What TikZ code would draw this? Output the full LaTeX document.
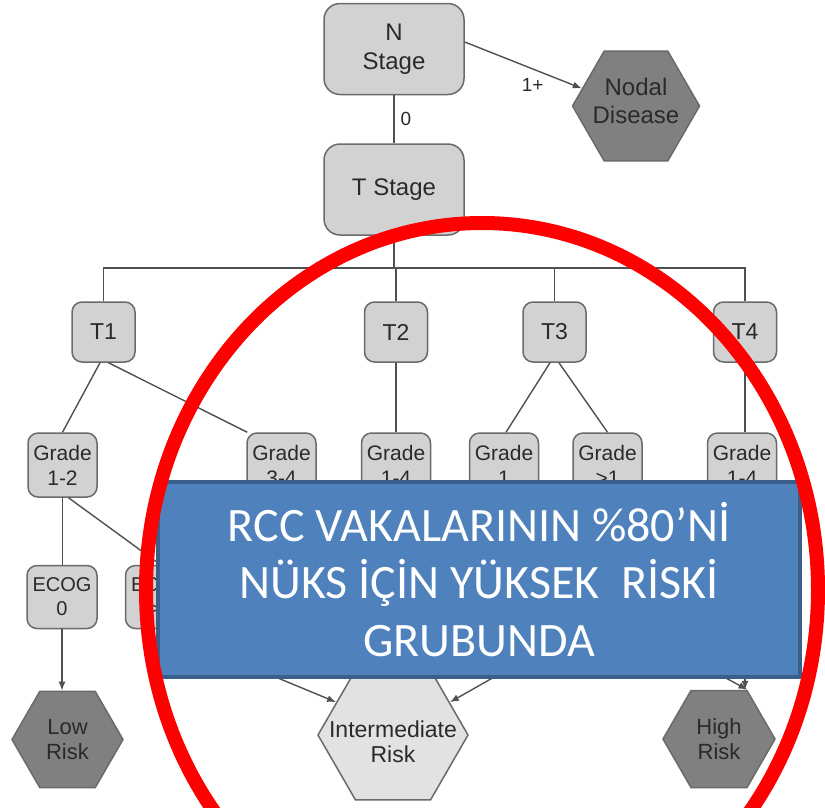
\documentclass[tikz,border=0pt]{standalone}
\usepackage{fontspec}
\setmainfont{Liberation Sans}
\newfontfamily\calib{Carlito}
\usetikzlibrary{shapes.geometric,arrows.meta}
\definecolor{nodefill}{HTML}{D2D2D2}
\definecolor{nodeline}{HTML}{6A6A6A}
\definecolor{darkhex}{HTML}{808080}
\definecolor{lighthex}{HTML}{E2E2E2}
\definecolor{txt}{HTML}{2A2A2A}
\definecolor{conncol}{HTML}{505050}
\definecolor{bluefill}{HTML}{4F81BD}
\definecolor{blueline}{HTML}{3A5F8B}
\definecolor{ringred}{HTML}{FF0000}
\tikzset{
  rbox/.style={draw=nodeline, fill=nodefill, line width=1.5pt, rounded corners=16pt,
    inner sep=0pt, align=center, text=txt, minimum width=140pt, minimum height=91pt,
    font=\fontsize{24}{29}\selectfont},
  tbox/.style={draw=nodeline, fill=nodefill, line width=1.5pt, rounded corners=10pt,
    inner sep=0pt, align=center, text=txt, minimum width=63pt, minimum height=60pt,
    font=\fontsize{23}{26}\selectfont},
  gbox/.style={draw=nodeline, fill=nodefill, line width=1.5pt, rounded corners=10pt,
    inner sep=0pt, align=center, text=txt, minimum width=69pt, minimum height=64pt,
    font=\fontsize{21}{25}\selectfont},
  ebox/.style={gbox, minimum width=70pt, minimum height=63pt, font=\fontsize{20}{24}\selectfont},
  hexd/.style={regular polygon, regular polygon sides=6, draw=nodeline, fill=darkhex,
    line width=1.5pt, inner sep=0pt},
  hexl/.style={hexd, fill=lighthex},
  hextext/.style={align=center, text=txt, inner sep=0pt, font=\fontsize{22}{25}\selectfont},
  conn/.style={draw=conncol, line width=1.4pt},
  arr/.style={conn, -{Latex[length=9pt,width=7pt]}},
  elabel/.style={text=txt, font=\fontsize{19}{22}\selectfont, inner sep=1pt},
  bluebox/.style={draw=blueline, fill=bluefill, line width=4pt, inner sep=0pt,
    minimum width=642pt, minimum height=195pt, align=center, text=white,
    font=\calib\fontsize{48}{57.5}\selectfont},
  ring/.style={draw=ringred, line width=14pt}
}
\begin{document}
\begin{tikzpicture}[x=1pt,y=-1pt]
\useasboundingbox (0,0) rectangle (825,807);
% nodes
\node[rbox] (nst) at (394,49) {N\\Stage};
\node[rbox] (tst) at (394,189.5) {T Stage};
\node[hexd, minimum size=127pt] (nodal) at (636,106) {};
\node[hextext, font=\fontsize{24}{28}\selectfont] (nodalT) at (636,101) {Nodal\\Disease};
\node[tbox] (t1) at (103.5,332) {T1};
\node[tbox] (t2) at (396,332) {T2};
\node[tbox] (t3) at (554.5,332) {T3};
\node[tbox] (t4) at (745,332) {T4};
\node[gbox] (g12) at (62.5,465) {Grade\\1-2};
\node[gbox] (g34) at (281.5,465) {Grade\\3-4};
\node[gbox] (g14a) at (396,465) {Grade\\1-4};
\node[gbox] (g1) at (504,465) {Grade\\1};
\node[gbox] (g2) at (607.5,465) {Grade\\>1};
\node[gbox] (g14b) at (742,465) {Grade\\1-4};
\node[ebox] (e0) at (62,597) {ECOG\\0};
\node[ebox] (e1) at (160.5,597) {ECOG\\>0};
\node[hexd, minimum size=111pt] (low) at (67.5,739.5) {};
\node[hextext] (lowT) at (67.5,739.5) {Low\\Risk};
\node[hexl, minimum size=150pt] (inter) at (393,735) {};
\node[hextext, font=\fontsize{23}{25}\selectfont] (interT) at (393,742) {Intermediate\\Risk};
\node[hexd, minimum size=112pt] (high) at (719,739) {};
\node[hextext] (highT) at (719,739.5) {High\\Risk};
\coordinate (busy) at (0,268);
\coordinate (hA) at (579,629);
\coordinate (hB) at (636,629);
% connectors
\draw[conn] (nst) -- node[elabel, right=5pt] {0} (tst);
\draw[arr] ([yshift=7pt]nst.east) -- node[elabel, pos=0.58, below=8pt] {1+} (nodal.162);
\draw[conn] (tst.south) -- (tst.south |- busy);
\draw[conn] (t1.north) -- (t1.north |- busy) -- (t4.north |- busy) -- (t4.north);
\draw[conn] (t2.north) -- (t2.north |- busy);
\draw[conn] (t3.north) -- (t3.north |- busy);
\draw[conn] ([xshift=-3.5pt]t1.south) -- (g12.north);
\draw[conn] ([xshift=5pt]t1.south) -- ([xshift=1pt]g34.north west);
\draw[conn] (t2.south) -- (g14a.north);
\draw[conn] ([xshift=-4.5pt]t3.south) -- ([xshift=2pt]g1.north);
\draw[conn] ([xshift=4.5pt]t3.south) -- (g2.north);
\draw[conn] (t4.south) -- (t4.south |- g14b.north);
\draw[conn] (g12.south) -- (g12.south |- e0.north);
\draw[conn] ([xshift=6pt]g12.south) -- (e1.north);
\draw[arr] (e0.south) -- (e0.south |- low.north);
\draw[arr] (e1.south) -- (inter.150);
\draw[arr] (hA) -- (inter.30);
\draw[arr] (hB) -- (high.corner 1);
\draw[arr] ([xshift=3pt]g14b.south) -- ([xshift=3pt]g14b.south |- high.north);
% message box
\node[bluebox] (msg) at (479,579.5) {RCC VAKALARININ \%80’Nİ\\NÜKS İÇİN YÜKSEK\ \ RİSKİ\\GRUBUNDA};
% red ring
\begin{scope}
\clip (0,0) rectangle (825,807);
\draw[ring] (482,590) ellipse [x radius=336pt, y radius=367pt];
\end{scope}
\end{tikzpicture}
\end{document}
